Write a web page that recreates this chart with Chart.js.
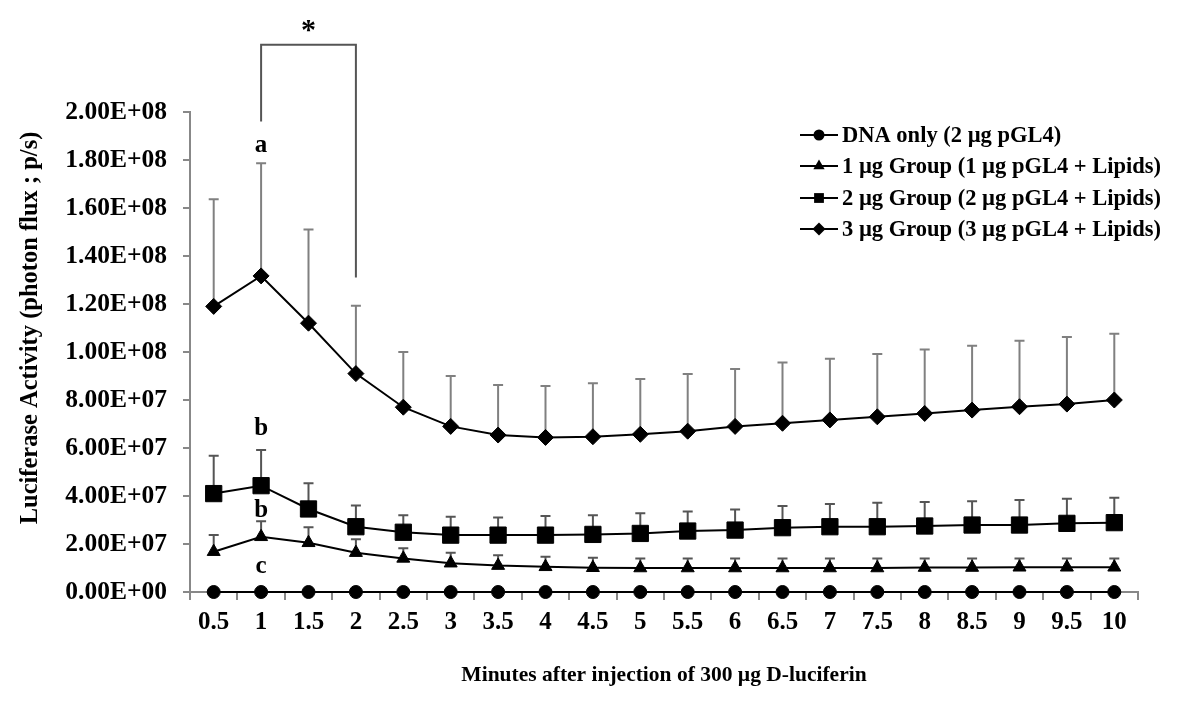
<!DOCTYPE html>
<html>
<head>
<meta charset="utf-8">
<script src="https://cdn.jsdelivr.net/npm/chart.js@4/dist/chart.umd.min.js"></script>
<style>
  body { margin: 0; background: #fff; }
  #wrap { width: 1200px; height: 726px; position: relative; }
</style>
</head>
<body>
<div id="wrap"><canvas id="chart"></canvas></div>
<script>
// minutes after injection
const minutes = ['0.5','1','1.5','2','2.5','3','3.5','4','4.5','5','5.5','6','6.5','7','7.5','8','8.5','9','9.5','10'];

// photon flux, in millions (1E+06 p/s)
const dnaOnly = [0,0,0,0,0,0,0,0,0,0,0,0,0,0,0,0,0,0,0,0];
const group1 = [16.8, 23.0, 20.5, 16.4, 14.0, 12.0, 11.0, 10.5, 10.1, 10.0, 10.0, 10.0, 10.0, 10.0, 10.0, 10.2, 10.2, 10.3, 10.3, 10.3];
const group1Err = [7.0, 6.5, 6.5, 5.6, 4.2, 4.4, 4.3, 4.2, 4.2, 4.0, 4.0, 4.0, 4.0, 4.0, 4.0, 3.8, 3.8, 3.7, 3.7, 3.7];
const group2 = [41.0, 44.3, 34.6, 27.2, 24.9, 23.7, 23.7, 23.7, 24.0, 24.4, 25.4, 25.8, 26.8, 27.2, 27.2, 27.5, 27.9, 27.9, 28.6, 28.9];
const group2Err = [15.8, 14.9, 10.7, 8.8, 7.1, 7.7, 7.3, 8.0, 8.0, 8.4, 8.1, 8.6, 9.0, 9.5, 10.0, 10.0, 9.9, 10.4, 10.3, 10.4];
const group3 = [119.0, 131.7, 112.0, 91.0, 77.0, 69.0, 65.4, 64.4, 64.7, 65.7, 67.0, 69.0, 70.3, 71.7, 73.0, 74.4, 75.8, 77.2, 78.3, 80.0];
const group3Err = [44.6, 46.9, 39.0, 28.3, 23.0, 21.0, 20.9, 21.4, 22.3, 23.0, 23.8, 23.9, 25.3, 25.5, 26.2, 26.6, 26.8, 27.5, 28.0, 27.6];

const seriesNames = [
  'DNA only (2 \u00b5g pGL4)',
  '1 \u00b5g Group (1 \u00b5g pGL4 + Lipids)',
  '2 \u00b5g Group (2 \u00b5g pGL4 + Lipids)',
  '3 \u00b5g Group (3 \u00b5g pGL4 + Lipids)'
];
const yTickLabels = ['0.00E+00','2.00E+07','4.00E+07','6.00E+07','8.00E+07','1.00E+08','1.20E+08','1.40E+08','1.60E+08','1.80E+08','2.00E+08'];
const yTitle = 'Luciferase Activity (photon flux ; p/s)';
const xTitle = 'Minutes after injection of 300 \u00b5g D-luciferin';

// significance letters and the bracket (values in millions)
const letters = [
  { at: '1', value: 186, text: 'a' },
  { at: '1', value: 68, text: 'b' },
  { at: '1', value: 34, text: 'b' },
  { at: '1', value: 10.4, text: 'c' }
];
const bracket = { from: '1', to: '2', fromLow: 196, top: 228, toLow: 131 };

const M = 1e6;
const serif = '"Times New Roman", "Liberation Serif", serif';

function mk(name, vals, errs, style, r) {
  return {
    label: name,
    data: vals.map(v => v * M),
    errs: errs ? errs.map(v => v * M) : null,
    borderColor: '#000',
    backgroundColor: '#000',
    borderWidth: 2,
    pointStyle: style,
    pointRadius: r,
    pointHoverRadius: r,
    pointBackgroundColor: '#000',
    pointBorderColor: '#000',
    pointBorderWidth: 1,
    tension: 0,
    clip: false
  };
}

const errorBars = {
  id: 'errorBars',
  beforeDatasetsDraw(chart) {
    const ctx = chart.ctx, xs = chart.scales.x, ys = chart.scales.y;
    chart.data.datasets.forEach((ds, di) => {
      if (!ds.errs) return;
      ctx.save();
      ctx.strokeStyle = di == 3 ? '#808080' : '#555';
      ctx.lineWidth = 2;
      ds.data.forEach((v, i) => {
        const x = xs.getPixelForValue(i);
        const y0 = ys.getPixelForValue(v);
        const y1 = ys.getPixelForValue(v + ds.errs[i]);
        ctx.beginPath();
        ctx.moveTo(x, y0); ctx.lineTo(x, y1);
        ctx.moveTo(x - 5, y1); ctx.lineTo(x + 5, y1);
        ctx.stroke();
      });
      ctx.restore();
    });
  }
};

function marker(ctx, style, x, y, r) {
  ctx.beginPath();
  if (style == 'circle') {
    ctx.arc(x, y, r, 0, Math.PI * 2);
  } else if (style == 'triangle') {
    ctx.moveTo(x, y - r); ctx.lineTo(x + r * 0.87, y + r * 0.5); ctx.lineTo(x - r * 0.87, y + r * 0.5);
  } else if (style == 'rect') {
    ctx.rect(x - r * 0.7, y - r * 0.7, r * 1.4, r * 1.4);
  } else {
    ctx.moveTo(x, y - r); ctx.lineTo(x + r, y); ctx.lineTo(x, y + r); ctx.lineTo(x - r, y);
  }
  ctx.closePath();
  ctx.fill();
}

const extras = {
  id: 'extras',
  afterDraw(chart) {
    const ctx = chart.ctx, xs = chart.scales.x, ys = chart.scales.y;
    const px = c => xs.getPixelForValue(minutes.indexOf(c));
    const py = v => ys.getPixelForValue(v * M);
    ctx.save();
    ctx.fillStyle = '#000';
    ctx.font = 'bold 25px ' + serif;
    ctx.textAlign = 'center';
    ctx.textBaseline = 'middle';
    letters.forEach(l => ctx.fillText(l.text, px(l.at), py(l.value)));

    // bracket
    ctx.strokeStyle = '#555';
    ctx.lineWidth = 2;
    ctx.beginPath();
    ctx.moveTo(px(bracket.from), py(bracket.fromLow));
    ctx.lineTo(px(bracket.from), py(bracket.top));
    ctx.lineTo(px(bracket.to), py(bracket.top));
    ctx.lineTo(px(bracket.to), py(bracket.toLow));
    ctx.stroke();
    ctx.font = 'bold 30px ' + serif;
    ctx.fillText('*', (px(bracket.from) + px(bracket.to)) / 2, py(bracket.top) - 14);

    // y axis title, sits a bit above the middle of the axis
    ctx.save();
    ctx.translate(31, 328);
    ctx.rotate(-Math.PI / 2);
    ctx.font = 'bold 24.5px ' + serif;
    ctx.fillText(yTitle, 0, 0);
    ctx.restore();

    // legend
    const sty = ['circle', 'triangle', 'rect', 'rectRot'];
    const rs = [5.5, 6.5, 7, 6.5];
    const rows = [135, 166, 198, 229];
    ctx.font = 'bold 22.5px ' + serif;
    ctx.textAlign = 'left';
    chart.data.datasets.forEach((ds, i) => {
      const y = rows[i];
      ctx.beginPath();
      ctx.strokeStyle = '#000';
      ctx.lineWidth = 2;
      ctx.moveTo(800, y); ctx.lineTo(838, y);
      ctx.stroke();
      marker(ctx, sty[i], 819, y, rs[i]);
      ctx.fillText(ds.label, 842, y + 1);
    });
    ctx.restore();
  }
};

const ctx = document.getElementById('chart').getContext('2d');
const chart = new Chart(ctx, {
  type: 'line',
  data: {
    labels: minutes,
    datasets: [
      mk(seriesNames[0], dnaOnly, null, 'circle', 6.5),
      mk(seriesNames[1], group1, group1Err, 'triangle', 7.5),
      mk(seriesNames[2], group2, group2Err, 'rect', 11.5),
      mk(seriesNames[3], group3, group3Err, 'rectRot', 8)
    ]
  },
  options: {
    responsive: true,
    maintainAspectRatio: false,
    animation: false,
    events: [],
    layout: { padding: { top: 112, right: 62, bottom: 0, left: 0 } },
    plugins: { legend: { display: false }, tooltip: { enabled: false } },
    scales: {
      x: {
        type: 'category',
        offset: true,
        grid: { offset: true, drawOnChartArea: false, tickLength: 8, color: '#888', lineWidth: 2 },
        border: { color: '#888', width: 2 },
        ticks: { color: '#000', padding: 8, maxRotation: 0, autoSkip: false, font: { family: serif, size: 25, weight: 'bold' } },
        title: {
          display: true,
          text: xTitle,
          color: '#000',
          font: { family: serif, size: 21.5, weight: 'bold' },
          padding: { top: 38, bottom: 38 }
        },
        afterFit(scale) { scale.height = 134; }
      },
      y: {
        min: 0,
        max: 200 * M,
        grid: { drawOnChartArea: false, tickLength: 7, color: '#888', lineWidth: 2 },
        border: { color: '#888', width: 2 },
        ticks: {
          stepSize: 20 * M,
          color: '#000',
          padding: 16,
          font: { family: serif, size: 25.5, weight: 'bold' },
          callback: v => yTickLabels[Math.round(v / (20 * M))]
        },
        afterFit(scale) { scale.width = 190; }
      }
    }
  },
  plugins: [errorBars, extras]
});
</script>
</body>
</html>
